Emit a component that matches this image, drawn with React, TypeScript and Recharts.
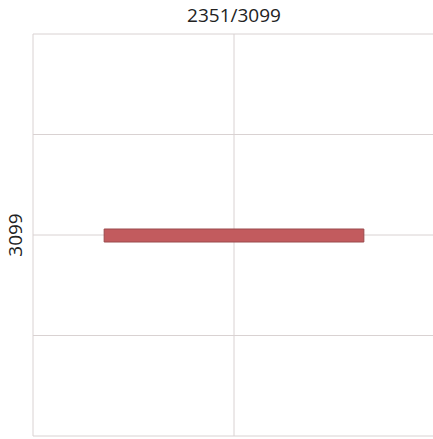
import { ComposedChart, Bar, XAxis, YAxis, CartesianGrid } from "recharts";

const title = "2351/3099";
const tasks = ["3099"];
const spans: [number, number][] = [[17.7, 82.3]];
const xTicks = [0, 50, 100];
const yGridTicks = [0, 1, 2, 3, 4];
const yDomain: [number, number] = [0, 4];

const data = tasks.map((task, i) => ({ task, span: spans[i] }));

const FONT = "'Open Sans', 'Noto Sans', sans-serif";

function RotatedTick(props: any) {
  const { x, y, payload } = props;
  const bx = x - 5;
  return (
    <text
      x={bx}
      y={y}
      transform={`rotate(-90, ${bx}, ${y})`}
      textAnchor="middle"
      fontSize={19}
      fill="#222"
      fontFamily={FONT}
    >
      {payload.value}
    </text>
  );
}

// horizontal grid lines at the grid ticks, mapped onto the plot height
const gridRows = ({ offset }: any) =>
  yGridTicks.map(
    (t) => offset.top + (offset.height * (t - yDomain[0])) / (yDomain[1] - yDomain[0])
  );

export default function App() {
  return (
    <div
      style={{
        position: "absolute",
        left: 0,
        top: 0,
        width: 433,
        height: 439,
        overflow: "hidden",
        background: "#fff",
        fontFamily: FONT,
      }}
    >
      <div
        style={{
          position: "absolute",
          left: 33,
          top: 3,
          width: 402,
          textAlign: "center",
          fontSize: 19,
          lineHeight: "24px",
          color: "#222",
        }}
      >
        {title}
      </div>
      <ComposedChart
        width={437}
        height={439}
        data={data}
        layout="vertical"
        margin={{ top: 34, right: 2, bottom: 3, left: 0 }}
      >
        <CartesianGrid
          stroke="#d9d2d2"
          strokeWidth={1}
          horizontalCoordinatesGenerator={gridRows}
        />
        <XAxis type="number" domain={[0, 100]} ticks={xTicks} hide />
        <YAxis
          type="category"
          dataKey="task"
          width={33}
          axisLine={false}
          tickLine={false}
          tickMargin={0}
          tick={<RotatedTick />}
        />
        <Bar
          dataKey="span"
          barSize={13}
          fill="#c25b5e"
          stroke="#9a4a4c"
          strokeWidth={1}
          isAnimationActive={false}
        />
      </ComposedChart>
    </div>
  );
}
